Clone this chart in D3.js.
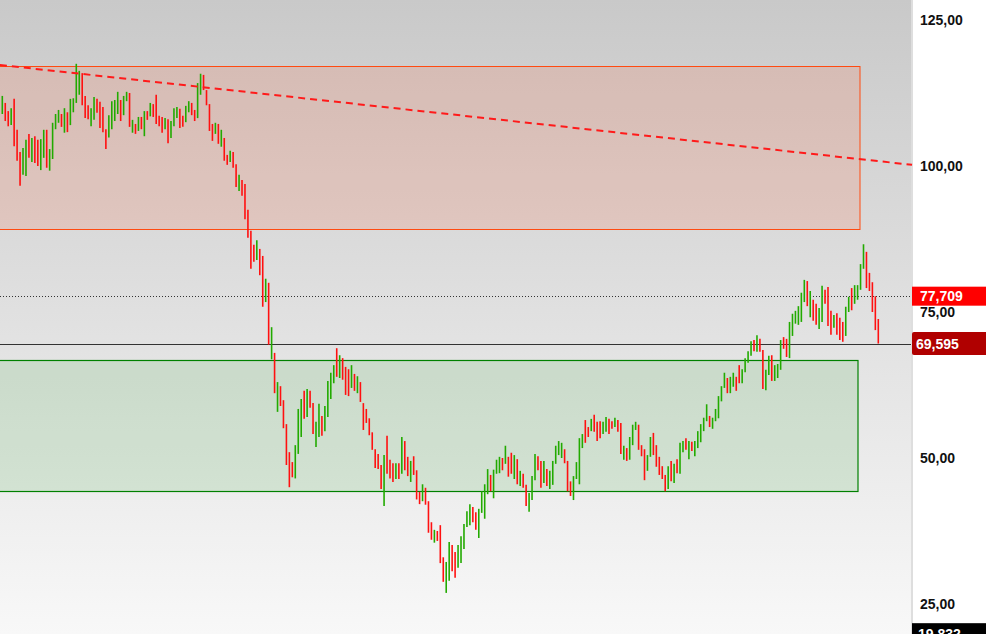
<!DOCTYPE html>
<html><head><meta charset="utf-8">
<script src="https://cdn.jsdelivr.net/npm/d3@7"></script>
<style>html,body{margin:0;padding:0;background:#fff;overflow:hidden}svg{display:block}</style>
</head><body><svg id="c" width="986" height="634"></svg>
<script>
// ---- data ----
const highs = [112.0,110.8,109.4,109.9,111.5,106.2,102.4,103.1,104.5,105.5,104.8,105.1,104.5,104.6,106.2,106.2,102.9,107.4,108.9,109.6,
108.9,109.9,109.2,111.5,111.6,117.5,116.3,115.9,112.0,110.4,109.9,111.8,111.5,111.0,110.1,106.3,108.7,111.1,111.3,112.7,
111.3,112.0,112.7,112.5,107.9,107.2,108.4,108.4,109.4,109.4,110.8,110.6,112.2,108.6,108.4,108.2,108.0,107.7,109.9,110.1,
109.8,108.6,110.3,111.1,110.8,109.6,114.2,115.8,115.6,113.0,110.6,107.2,107.4,107.2,106.2,104.8,101.9,102.6,102.4,100.3,
98.5,97.6,96.9,92.5,88.9,86.5,87.3,85.8,84.6,80.7,80.0,72.4,68.0,63.0,62.3,59.9,55.8,51.0,49.3,52.2,
58.4,60.1,61.5,61.8,61.5,59.4,56.2,59.3,57.2,58.9,63.2,64.6,65.9,68.8,67.6,67.1,65.6,65.2,65.9,64.4,
64.0,63.0,59.4,58.4,56.8,54.4,51.5,50.7,48.8,50.5,53.8,49.7,49.1,49.1,49.1,53.6,52.9,50.2,49.5,50.3,
47.9,44.2,45.5,44.9,42.6,39.0,37.7,37.5,38.5,33.0,32.2,35.6,35.1,33.9,35.1,36.6,38.7,40.9,42.1,41.6,
40.7,41.3,44.3,45.5,48.1,47.1,48.0,49.7,50.2,50.0,52.1,50.2,50.9,50.5,49.8,47.8,47.3,45.4,44.0,46.9,
50.7,50.3,49.5,49.5,48.1,47.8,49.5,52.1,52.9,52.6,51.5,49.5,46.0,46.9,49.3,53.4,54.1,56.5,55.3,56.7,
57.4,56.2,56.3,56.2,57.0,56.7,56.3,56.9,56.5,56.0,52.1,51.7,53.6,55.7,56.2,55.7,52.2,51.5,50.5,53.6,
54.3,52.2,50.2,48.6,47.1,48.6,49.5,49.0,49.8,52.6,52.9,53.4,52.9,52.8,52.9,54.6,55.8,56.9,59.2,57.2,
56.9,58.4,60.6,62.3,64.6,63.7,63.9,64.6,63.9,65.9,65.2,67.1,68.3,70.0,70.2,71.0,70.4,68.5,65.1,67.5,
67.6,65.9,66.1,70.2,70.7,70.4,73.3,74.7,75.2,76.0,78.3,80.5,80.3,78.6,77.1,76.4,75.7,79.5,78.8,79.3,
75.2,74.5,74.8,74.0,73.3,75.9,77.6,79.1,79.6,79.6,83.2,86.6,85.3,81.7,80.1,77.7,73.8];
const lows = [108.9,107.7,106.8,107.0,103.4,100.9,96.6,98.5,98.3,101.4,100.7,100.5,100.0,99.3,101.4,99.7,99.2,101.2,106.3,107.4,
106.7,105.7,105.8,107.0,109.2,110.8,112.2,110.4,108.2,108.0,106.8,107.9,109.1,106.5,105.8,102.9,104.9,106.3,107.7,108.9,
107.7,108.7,111.1,106.7,105.7,105.5,106.0,106.3,105.1,107.9,108.5,108.4,107.2,106.8,105.7,106.3,103.9,104.8,106.8,108.2,
106.5,106.7,107.5,109.2,108.7,107.7,108.2,112.2,113.0,110.4,106.0,104.3,105.5,103.8,103.3,100.9,100.2,100.7,99.7,96.4,
95.7,94.9,90.9,87.7,82.4,83.6,83.9,81.3,75.9,76.7,69.4,66.9,61.1,57.9,58.9,55.1,48.8,45.0,46.7,46.5,
50.7,53.6,56.7,57.0,58.6,54.1,51.9,53.6,53.8,54.6,57.0,60.1,62.8,63.9,63.7,63.4,60.8,60.6,62.0,61.5,
61.1,59.6,54.8,56.0,53.9,51.4,48.3,48.1,44.7,41.8,47.3,46.5,45.9,46.4,46.4,47.3,47.9,46.9,45.9,47.1,
42.9,42.1,42.6,42.0,37.2,36.0,35.5,35.8,32.0,28.8,26.9,29.0,30.6,29.5,31.2,32.0,34.4,38.2,38.5,39.0,
37.7,36.3,40.6,39.6,43.8,44.3,43.1,47.3,47.4,47.9,49.0,46.8,47.3,46.4,45.5,45.2,44.9,41.8,40.8,42.8,
46.2,47.9,44.9,45.7,45.2,44.7,45.4,49.0,50.5,50.0,49.1,44.3,43.5,42.8,46.4,45.5,51.7,52.6,53.6,54.6,
54.5,52.9,53.4,54.1,54.5,54.1,55.0,55.3,54.5,50.7,49.7,49.5,49.7,52.2,54.8,51.4,50.3,46.2,47.8,50.2,
50.5,48.5,47.1,46.4,44.3,44.7,46.0,45.7,47.4,47.3,51.0,51.4,49.8,51.2,50.3,51.7,52.7,54.6,56.3,55.3,
55.0,56.3,56.8,59.7,62.0,61.1,61.1,62.2,61.5,62.8,62.8,64.7,66.3,67.5,68.3,68.2,68.2,61.8,61.6,64.2,
63.2,63.2,63.7,65.1,68.7,67.3,67.1,70.9,73.0,72.8,73.3,76.7,76.0,74.1,73.5,72.8,72.1,73.3,76.4,72.6,
71.1,72.3,71.1,70.2,69.9,70.9,75.0,75.3,76.4,77.1,78.8,82.4,79.1,78.6,75.0,71.9,69.6];
// 1 = up bar (green), 0 = down bar (red)
const ups = [1,0,0,1,0,0,0,1,1,0,1,0,0,1,1,0,1,1,1,1,
0,1,0,1,1,1,1,0,0,0,1,1,0,0,0,0,1,1,1,1,
0,1,1,0,1,0,1,0,1,0,1,0,0,0,0,1,0,1,1,1,
0,0,1,1,0,0,1,1,0,0,0,0,1,0,1,0,0,1,0,0,
1,0,0,0,0,0,1,0,0,1,0,1,0,1,0,0,0,0,0,1,
1,1,0,1,0,0,1,1,0,1,1,1,1,0,1,0,0,0,1,0,
1,0,0,0,0,0,0,0,0,1,0,0,0,1,0,1,0,0,1,0,
0,0,1,0,0,0,1,0,0,0,1,1,0,0,1,1,1,1,1,0,
0,1,1,1,1,0,1,1,1,0,1,0,0,1,0,1,0,0,1,1,
1,0,0,1,0,1,1,1,1,1,0,0,0,1,1,1,1,0,0,1,
0,0,0,1,1,0,0,1,0,0,1,0,1,1,1,0,0,0,1,1,
0,0,0,0,0,1,0,1,0,1,1,0,1,0,1,1,1,1,1,0,
1,1,1,1,1,0,1,1,0,0,1,1,1,1,0,1,0,0,1,1,
0,1,1,1,0,0,1,1,1,1,1,1,0,1,0,0,1,1,0,0,
0,1,0,0,0,1,1,0,1,1,1,1,0,0,0,0,0];

const yTicks = [25, 50, 75, 100, 125];
const lastPrice = 69.595;      // last close
const refPrice = 77.709;       // reference level (dotted)
const lowPrice = 19.832;       // bottom marker
const resistZone = [89.2, 117.1];   // price range of red zone
const supportZone = [44.35, 66.8];  // price range of green zone
const resistEnd = 289.8, supportEnd = 289.2; // bar index where zones end
const trendIdx = [-0.8, 307.4];
const trendVal = [117.3, 100.2];

// ---- layout ----
const W = 986, H = 634, plotR = 911;
const svg = d3.select("#c");
const n = highs.length;
const x = d3.scaleLinear().domain([0, n - 1]).range([2.3, 878.3]);
const y = d3.scaleLinear().domain([25, 125]).range([604, 20]);
const loc = d3.formatLocale({decimal: ",", thousands: ".", grouping: [3], currency: ["", ""]});
const fmt2 = loc.format(".2f");
const fmt3 = loc.format(".3f");

const defs = svg.append("defs");
const g = defs.append("linearGradient").attr("id", "bg").attr("x1", 0).attr("y1", 0).attr("x2", 0).attr("y2", 1);
g.append("stop").attr("offset", "0%").attr("stop-color", "#c9c9c9");
g.append("stop").attr("offset", "100%").attr("stop-color", "#f8f8f8");
defs.append("clipPath").attr("id", "clip").append("rect").attr("x", 0).attr("y", 0).attr("width", plotR).attr("height", H);

svg.append("rect").attr("x", 0).attr("y", 0).attr("width", W).attr("height", H).attr("fill", "#fff");
svg.append("rect").attr("x", 0).attr("y", 0).attr("width", plotR).attr("height", H).attr("fill", "url(#bg)");
svg.append("rect").attr("x", plotR).attr("y", 0).attr("width", 2).attr("height", H).attr("fill", "#dedede");

const plot = svg.append("g").attr("clip-path", "url(#clip)");

// zones
plot.append("rect")
  .attr("x", -1).attr("y", Math.round(y(resistZone[1])) + 0.5)
  .attr("width", Math.round(x(resistEnd)) + 1).attr("height", Math.round(y(resistZone[0]) - y(resistZone[1])))
  .attr("fill", "rgba(255,100,60,0.17)").attr("stroke", "#ff4a10").attr("stroke-width", 1);
plot.append("rect")
  .attr("x", -1).attr("y", Math.round(y(supportZone[1])) + 0.5)
  .attr("width", Math.round(x(supportEnd)) + 1).attr("height", Math.round(y(supportZone[0]) - y(supportZone[1])))
  .attr("fill", "rgba(90,180,90,0.18)").attr("stroke", "#008000").attr("stroke-width", 1.2);

// reference lines
plot.append("line").attr("x1", 0).attr("x2", plotR).attr("y1", Math.round(y(refPrice)) + 0.5).attr("y2", Math.round(y(refPrice)) + 0.5)
  .attr("stroke", "#333").attr("stroke-width", 1).attr("stroke-dasharray", "1,2");
plot.append("line").attr("x1", 0).attr("x2", plotR).attr("y1", Math.round(y(lastPrice)) + 0.5).attr("y2", Math.round(y(lastPrice)) + 0.5)
  .attr("stroke", "#333").attr("stroke-width", 1);

// bars
plot.append("g").selectAll("line").data(highs).join("line")
  .attr("x1", (d, i) => x(i)).attr("x2", (d, i) => x(i))
  .attr("y1", (d, i) => y(highs[i])).attr("y2", (d, i) => y(lows[i]))
  .attr("stroke", (d, i) => ups[i] ? "#22aa00" : "#ff1010")
  .attr("stroke-width", 1.6);

// trend line
svg.append("line")
  .attr("x1", x(trendIdx[0])).attr("y1", y(trendVal[0]))
  .attr("x2", x(trendIdx[1])).attr("y2", y(trendVal[1]))
  .attr("stroke", "#ff1a1a").attr("stroke-width", 2).attr("stroke-dasharray", "7,5");

// right axis
const axis = d3.axisRight(y).tickValues(yTicks).tickFormat(fmt2).tickSize(0).tickPadding(0);
const ag = svg.append("g").attr("transform", `translate(920,0)`).call(axis);
ag.select(".domain").remove();
ag.selectAll("text").attr("font-family", "Liberation Sans, Arial, sans-serif").attr("font-size", 14)
  .attr("font-weight", "bold").attr("fill", "#111").attr("dy", "0.35em");

// price labels
function tag(val, fill, fmt, h, tx, r) {
  const cy = y(val);
  svg.append("rect").attr("x", plotR + 1).attr("y", cy - h / 2).attr("width", W - plotR + r).attr("height", h)
    .attr("rx", r).attr("fill", fill);
  svg.append("text").attr("x", tx).attr("y", cy).attr("dy", "0.36em").text(fmt(val))
    .attr("font-family", "Liberation Sans, Arial, sans-serif").attr("font-size", 14).attr("font-weight", "bold").attr("fill", "#fff");
}
tag(refPrice, "#ff0000", fmt3, 19, 920, 0);
tag(lastPrice, "#b00000", fmt3, 23, 916, 2);
tag(lowPrice, "#000", fmt3, 22, 918, 0);
</script></body></html>
